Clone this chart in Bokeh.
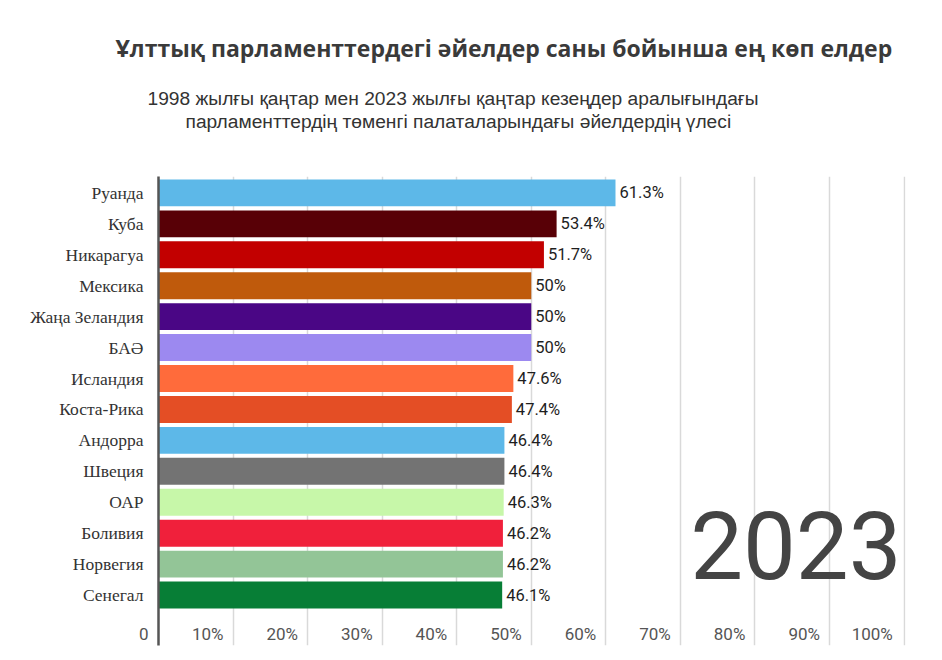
from bokeh.plotting import figure
from bokeh.models import ColumnDataSource, FixedTicker, Label, Range1d, Title
from bokeh.core.properties import value
from bokeh.embed import file_html
from bokeh.resources import INLINE

title_text = "Ұлттық парламенттердегі әйелдер саны бойынша ең көп елдер"
subtitle_1 = "1998 жылғы қаңтар мен 2023 жылғы қаңтар кезеңдер аралығындағы"
subtitle_2 = "парламенттердің төменгі палаталарындағы әйелдердің үлесі"
year_text = "2023"

countries = ["Руанда", "Куба", "Никарагуа", "Мексика", "Жаңа Зеландия", "БАӘ",
             "Исландия", "Коста-Рика", "Андорра", "Швеция", "ОАР", "Боливия",
             "Норвегия", "Сенегал"]
shares = [61.3, 53.4, 51.7, 50, 50, 50, 47.6, 47.4, 46.4, 46.4, 46.3, 46.2, 46.2, 46.1]
colors = ["#5db8e8", "#580006", "#c20000", "#bf5a0c", "#4a0685", "#9c89f0",
          "#ff6b3b", "#e44e25", "#5db8e8", "#737373", "#c7f7a9", "#f0203b",
          "#93c597", "#077e36"]
x_ticks = [0, 10, 20, 30, 40, 50, 60, 70, 80, 90, 100]
x_tick_labels = ["0", "10%", "20%", "30%", "40%", "50%", "60%", "70%", "80%", "90%", "100%"]

n = len(countries)
ypos = [n - 1 - i for i in range(n)]
source = ColumnDataSource(dict(
    y=ypos, v=shares, c=colors, name=countries,
    lbl=[f"{s:g}%" for s in shares],
))

p = figure(width=926, height=652, output_backend="svg", toolbar_location=None,
           x_range=Range1d(0, 100.2), y_range=Range1d(-1.63, n - 1 + 0.53),
           min_border_left=158, min_border_right=21, min_border_top=176,
           min_border_bottom=7, title=None)
p.outline_line_color = None
p.background_fill_color = "white"

p.hbar(y="y", right="v", left=0, height=0.87, fill_color="c", line_color=None, source=source)
p.text(x="v", y="y", text="lbl", source=source, x_offset=4, text_baseline="middle",
       text_align="left", text_font=value("Roboto"), text_font_size="16.5px", text_color="#1e1e1e")

# y axis
p.yaxis.ticker = FixedTicker(ticks=ypos)
p.yaxis.major_label_overrides = {y: nm for y, nm in zip(ypos, countries)}
p.yaxis.axis_line_color = "#555555"
p.yaxis.axis_line_width = 2.5
p.yaxis.major_tick_line_color = None
p.yaxis.minor_tick_line_color = None
p.yaxis.major_label_standoff = 9
p.yaxis.major_label_text_font = "Liberation Serif"
p.yaxis.major_label_text_font_size = "17.5px"
p.yaxis.major_label_text_color = "#333333"

# x axis: labels sit left of their grid line (padded so the visible text ends before the tick)
NB = "\u00a0"
pad_counts = {"0": 7, "100%": 8}
p.xaxis.ticker = FixedTicker(ticks=x_ticks)
p.xaxis.major_label_overrides = {t: lab + NB * pad_counts.get(lab, 12)
                                 for t, lab in zip(x_ticks, x_tick_labels)}
p.xaxis.axis_line_color = None
p.xaxis.major_tick_line_color = None
p.xaxis.minor_tick_line_color = None
p.xaxis.major_label_standoff = -28
p.xaxis.major_label_text_font = "Roboto"
p.xaxis.major_label_text_font_size = "17px"
p.xaxis.major_label_text_color = "#555555"

p.xgrid.ticker = FixedTicker(ticks=x_ticks)
p.xgrid.grid_line_color = "#d9d9d9"
p.xgrid.grid_line_width = 1.5
p.ygrid.grid_line_color = None

# titles: stacked outward from the frame
p.add_layout(Title(text=NB, text_font_size="1px", standoff=42), "above")
p.add_layout(Title(text=subtitle_2, align="left", offset=27, standoff=0,
                   text_font="Liberation Sans", text_font_size="19.2px",
                   text_font_style="normal", text_color="#333333"), "above")
p.add_layout(Title(text=subtitle_1, align="left", offset=-11, standoff=0,
                   text_font="Liberation Sans", text_font_size="19.2px",
                   text_font_style="normal", text_color="#333333"), "above")
p.add_layout(Title(text=title_text, align="left", offset=-43, standoff=44,
                   text_font="Open Sans", text_font_size="23px",
                   text_font_style="bold", text_color="#3a3a3a"), "above")

p.add_layout(Label(x=743, y=101, x_units="screen", y_units="screen", text=year_text,
                   text_align="right", text_baseline="alphabetic", text_font="Roboto",
                   text_font_size="94px", text_color="#444444"))

open("out.html", "w").write(file_html(p, INLINE))
